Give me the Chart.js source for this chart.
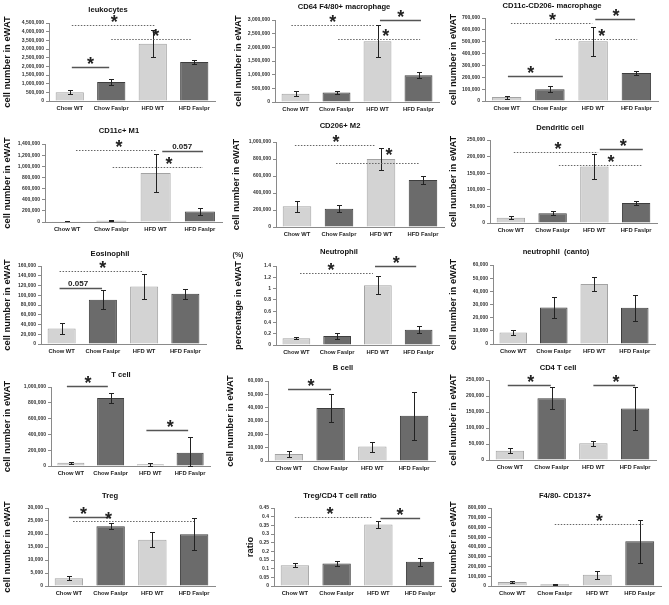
<!DOCTYPE html>
<html>
<head>
<meta charset="utf-8">
<script src="https://cdn.jsdelivr.net/npm/chart.js@4"></script>
<style>
body { margin: 0; background: #fff; }
#fig { position: relative; width: 669px; height: 605px; overflow: hidden; }
#fig canvas { position: absolute; }
</style>
</head>
<body>
<div id="fig"></div>
<script>
// === Data ===

const groups = ['Chow WT', 'Chow Faslpr', 'HFD WT', 'HFD Faslpr'];

const titles = [
	'leukocytes', 'CD64 F4/80+ macrophage', 'CD11c-CD206- macrophage',
	'CD11c+ M1', 'CD206+ M2', 'Dendritic cell',
	'Eosinophil', 'Neutrophil', 'neutrophil  (canto)',
	'T cell', 'B cell', 'CD4 T cell',
	'Treg', 'Treg/CD4 T cell ratio', 'F4/80- CD137+'
];

const axisTitles = [
	'cell number in eWAT', 'cell number in eWAT', 'cell number in eWAT',
	'cell number in eWAT', 'cell number in eWAT', 'cell number in eWAT',
	'cell number in eWAT', 'percentage in eWAT', 'cell number in eWAT',
	'cell number in eWAT', 'cell number in eWAT', 'cell number in eWAT',
	'cell number in eWAT', 'ratio', 'cell number in eWAT'
];

const yMax  = [4500000, 3000000, 700000, 1400000, 1000000, 250000, 160000, 1.4, 60000, 1000000, 60000, 250000, 30000, 0.45, 800000];
const yStep = [500000, 500000, 100000, 200000, 200000, 50000, 20000, 0.2, 10000, 200000, 10000, 50000, 5000, 0.05, 100000];

const means = [
	[500000, 1100000, 3300000, 2250000],
	[300000, 350000, 2220000, 980000],
	[33000, 100000, 503000, 237000],
	[15000, 22000, 880000, 190000],
	[245000, 215000, 800000, 553000],
	[16000, 29000, 170000, 60000],
	[32000, 91000, 118000, 103000],
	[0.12, 0.16, 1.06, 0.27],
	[8700, 27800, 45500, 27500],
	[42000, 860000, 21000, 168000],
	[5300, 39800, 10800, 34000],
	[29000, 193000, 52000, 161000],
	[3000, 23000, 17800, 19900],
	[0.12, 0.13, 0.355, 0.14],
	[40000, 15000, 115000, 460000]
];

const errors = [
	[110000, 180000, 770000, 140000],
	[90000, 70000, 590000, 110000],
	[13000, 28000, 120000, 14000],
	[5000, 6000, 340000, 60000],
	[65000, 42000, 133000, 52000],
	[4000, 6000, 38000, 6000],
	[11000, 19000, 26000, 10000],
	[0.015, 0.055, 0.16, 0.06],
	[2000, 8200, 5500, 10000],
	[12000, 60000, 20000, 195000],
	[2000, 10800, 3800, 18000],
	[8000, 35000, 7000, 66000],
	[700, 1200, 2900, 6200],
	[0.012, 0.013, 0.02, 0.022],
	[13000, 5000, 40000, 220000]
];

// significance bars: [from group, to group, y value, dotted, label, label at group, label y value (optional)]
const sigBars = [
	[[0.05, 0.95, 1980000, 0, '*', 0.5], [0.05, 2.05, 4400000, 1, '*', 1.07], [1.0, 2.95, 3570000, 1, '*', 2.07]],
	[[-0.1, 1.94, 2820000, 1, '*', 0.91], [2.06, 3.06, 3000000, 0, '*', 2.57], [1.04, 3.04, 2300000, 1, '*', 2.2]],
	[[0.03, 1.3, 211000, 0, '*', 0.56], [0.1, 1.98, 654000, 1, '*', 1.06], [2.05, 2.97, 690000, 0, '*', 2.53], [1.13, 3.02, 521000, 1, '*', 2.2]],
	[[0.2, 2.0, 1290000, 1, '*', 1.17], [2.15, 3.07, 1280000, 0, '0.057', 2.6], [1.03, 3.07, 988000, 1, '*', 2.3]],
	[[-0.05, 1.86, 965000, 1, '*', 0.93], [0.93, 2.93, 757000, 1, '*', 2.19, 890000]],
	[[0.07, 2.09, 215000, 1, '*', 1.13], [2.13, 3.16, 222000, 0, '*', 2.69], [1.15, 3.16, 176000, 1, '*', 2.4]],
	[[-0.05, 0.98, 115000, 0, '0.057', 0.4], [-0.05, 1.98, 149000, 1, '*', 1.0]],
	[[0.09, 1.88, 1.28, 1, '*', 0.85], [1.93, 2.94, 1.40, 0, '*', 2.45]],
	[],
	[[-0.1, 0.93, 1008000, 0, '*', 0.43], [1.9, 2.95, 458000, 0, '*', 2.5]],
	[[-0.02, 1.01, 53700, 0, '*', 0.53]],
	[[-0.05, 0.98, 233000, 0, '*', 0.5], [2.0, 3.0, 233000, 0, '*', 2.54]],
	[[0.0, 1.0, 26500, 0, '*', 0.35], [0.1, 3.0, 25000, 1, '*', 0.95, 27200]],
	[[0.0, 1.85, 0.40, 1, '*', 0.84], [2.05, 3.0, 0.39, 0, '*', 2.52]],
	[[1.0, 3.1, 635000, 1, '*', 2.05]]
];


// === Layout ===

// [column left, title y, title x (local), plot top, plot bottom, plot left (local), plot right (local), y title x (local)]
const panelBoxes = [
	[0, 10, 108, 23, 101, 49, 215, 7],
	[223, 7, 121, 20, 102, 52, 216, 15],
	[446, 6, 106, 18, 101, 39, 212, 7],
	[0, 131, 119, 144, 222, 45, 222, 7],
	[223, 126, 117, 142, 227, 53, 221, 13],
	[446, 128, 114, 140, 223, 44, 211, 7],
	[0, 254, 110, 266, 344, 41, 206, 7],
	[223, 252, 116, 266, 345, 53, 216, 15],
	[446, 252, 110, 265, 344, 47, 209, 7],
	[0, 375, 121, 387, 466, 51, 210, 7],
	[223, 368, 120, 381, 461, 45, 212, 7],
	[446, 368, 112, 380, 460, 43, 210, 7],
	[0, 496, 110, 508, 586, 48, 215, 7],
	[223, 496, 117, 508, 586, 51, 218, 27],
	[446, 496, 119, 508, 586, 45, 215, 7]
];

const FONT = '"Liberation Sans", Arial, sans-serif';
const LIGHT = '#d3d3d3', LIGHT_EDGE = '#a3a3a3';
const DARK = '#6b6b6b', DARK_EDGE = '#3e3e3e';


// === Error bars, significance marks and panel titles ===

const marksPlugin = {
	id: 'marks',
	afterDatasetsDraw(chart) {
		const opts = chart.options.plugins.marks;
		const ctx = chart.ctx;
		const xs = chart.scales.x, ys = chart.scales.y;
		const meta = chart.getDatasetMeta(0);

		ctx.save();
		ctx.strokeStyle = '#222';
		ctx.lineWidth = 1;
		meta.data.forEach((bar, i) => {
			const m = opts.means[i], e = opts.errors[i];
			const yHi = Math.round(ys.getPixelForValue(m + e)) + 0.5;
			const yLo = Math.round(ys.getPixelForValue(Math.max(m - e, 0))) + 0.5;
			const x = Math.round(bar.x) + 0.5;
			ctx.beginPath();
			ctx.moveTo(x, yHi); ctx.lineTo(x, yLo);
			ctx.moveTo(x - 2.5, yHi); ctx.lineTo(x + 2.5, yHi);
			ctx.moveTo(x - 2.5, yLo); ctx.lineTo(x + 2.5, yLo);
			ctx.stroke();
		});

		opts.sig.forEach(s => {
			const [from, to, val, dotted, label, at, labelVal] = s;
			const x1 = xs.getPixelForValue(from), x2 = xs.getPixelForValue(to);
			const y = Math.round(ys.getPixelForValue(val)) + 0.5;
			ctx.beginPath();
			if (dotted) {
				ctx.setLineDash([1.5, 1.5]);
				ctx.strokeStyle = '#666';
				ctx.lineWidth = 1;
			} else {
				ctx.setLineDash([]);
				ctx.strokeStyle = '#555';
				ctx.lineWidth = 1.4;
			}
			ctx.moveTo(x1, y); ctx.lineTo(x2, y);
			ctx.stroke();
			ctx.setLineDash([]);

			const lx = xs.getPixelForValue(at);
			ctx.fillStyle = '#222';
			ctx.textAlign = 'center';
			if (label === '*') {
				ctx.font = 'bold 18px ' + FONT;
				ctx.textBaseline = 'alphabetic';
				const mt = ctx.measureText('*');
				const cy = labelVal !== undefined ? ys.getPixelForValue(labelVal) : y - 7;
				ctx.fillText('*', lx, cy + (mt.actualBoundingBoxAscent - mt.actualBoundingBoxDescent) / 2);
			} else {
				ctx.font = 'bold 8px ' + FONT;
				ctx.textBaseline = 'alphabetic';
				ctx.fillText(label, lx, y - 2.5);
			}
		});

		ctx.fillStyle = '#111';
		ctx.textAlign = 'center';
		ctx.textBaseline = 'middle';
		ctx.font = 'bold 7.6px ' + FONT;
		ctx.fillText(opts.title[0], opts.title[1], opts.title[2]);

		if (opts.note) {
			ctx.font = 'bold 7px ' + FONT;
			ctx.fillStyle = '#222';
			ctx.fillText(opts.note[0], opts.note[1], opts.note[2]);
		}
		ctx.restore();
	}
};

function formatTick(value, max) {
	if (max < 10)
		return String(+value.toFixed(2));
	return value.toLocaleString('en-US');
}


// === Panels ===

const fig = document.getElementById('fig');

titles.forEach((title, i) => {
	const [colLeft, titleY, titleX, top, bottom, plotLeft, plotRight, yTitleX] = panelBoxes[i];
	const canvasTop = titleY - 5;
	const canvas = document.createElement('canvas');
	canvas.width = 223;
	canvas.height = bottom - canvasTop + 16;
	canvas.style.left = colLeft + 'px';
	canvas.style.top = canvasTop + 'px';
	fig.appendChild(canvas);

	const yTitleSize = 9.4;

	new Chart(canvas, {
		type: 'bar',
		data: {
			labels: groups,
			datasets: [{
				data: means[i],
				backgroundColor: [LIGHT, DARK, LIGHT, DARK],
				borderColor: [LIGHT_EDGE, DARK_EDGE, LIGHT_EDGE, DARK_EDGE],
				borderWidth: 1,
				barPercentage: 0.68,
				categoryPercentage: 1
			}]
		},
		options: {
			responsive: false,
			animation: false,
			devicePixelRatio: 1,
			layout: {
				padding: { top: top - canvasTop, left: 0, right: 223 - plotRight, bottom: 2 }
			},
			plugins: {
				legend: { display: false },
				tooltip: { enabled: false },
				title: { display: false },
				marks: {
					means: means[i],
					errors: errors[i],
					sig: sigBars[i],
					title: [title, titleX, titleY - canvasTop],
					note: i === 7 ? ['(%)', 15, 255 - canvasTop] : null
				}
			},
			scales: {
				x: {
					afterFit: s => { s.height = 14; },
					grid: { display: false, drawTicks: false },
					border: { display: true, color: '#8a8a8a', width: 1 },
					ticks: {
						autoSkip: false,
						maxRotation: 0,
						padding: 4,
						color: '#222',
						font: { family: FONT, size: 5.8, weight: 'bold' }
					}
				},
				y: {
					min: 0,
					max: yMax[i],
					afterFit: s => { s.width = plotLeft; },
					grid: { drawOnChartArea: false, drawTicks: true, tickLength: 3, color: '#8a8a8a' },
					border: { display: true, color: '#8a8a8a', width: 1 },
					ticks: {
						stepSize: yStep[i],
						autoSkip: false,
						padding: 2,
						color: '#333',
						font: { family: FONT, size: 5, weight: 'bold' },
						callback: v => formatTick(v, yMax[i])
					},
					title: {
						display: true,
						text: axisTitles[i],
						color: '#111',
						font: { family: FONT, size: yTitleSize, weight: 'bold', lineHeight: 1.2 },
						padding: { top: yTitleX - yTitleSize * 0.6, bottom: 0 }
					}
				}
			}
		},
		plugins: [marksPlugin]
	});
});
</script>
</body>
</html>
